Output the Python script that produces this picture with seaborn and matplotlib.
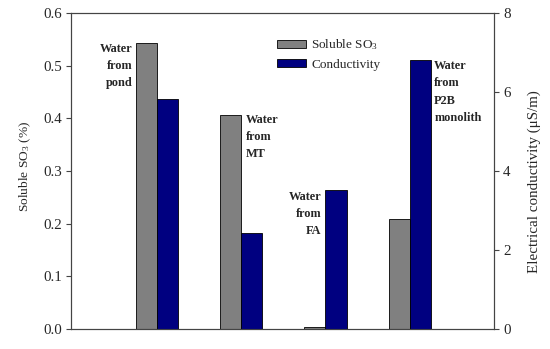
import matplotlib
matplotlib.use("Agg")
import matplotlib.pyplot as plt
import matplotlib.patches as mpatches
import seaborn as sns
import pandas as pd

samples = ["Water from pond", "Water from MT", "Water from FA", "Water from P2B monolith"]
so3 = [0.543, 0.406, 0.003, 0.209]
cond = [5.82, 2.44, 3.52, 6.81]
series = ["Soluble SO$_3$", "Conductivity"]
left_ticks = [0.0, 0.1, 0.2, 0.3, 0.4, 0.5, 0.6]
right_ticks = [0, 2, 4, 6, 8]
labels = ["Water\nfrom\npond", "Water\nfrom\nMT", "Water\nfrom\nFA", "Water\nfrom\nP2B\nmonolith"]

sns.set_theme(style="white")
plt.rcParams["font.family"] = ["Liberation Serif", "DejaVu Serif"]
plt.rcParams["mathtext.fontset"] = "custom"
plt.rcParams["mathtext.rm"] = "Liberation Serif"
plt.rcParams["mathtext.it"] = "Liberation Serif:italic"

gray = "#808080"
navy = "#000080"

df1 = pd.DataFrame({"sample": samples, "series": series[0], "value": so3})
df2 = pd.DataFrame({"sample": samples, "series": series[1], "value": cond})

fig = plt.figure(figsize=(5.5, 3.49), dpi=100)
ax1 = fig.add_axes([71/550, 1-329/349, 423/550, 316/349])
ax2 = ax1.twinx()

for d, ax in ((df1, ax1), (df2, ax2)):
    sns.barplot(data=d, x="sample", y="value", hue="series", hue_order=series, order=samples,
                palette=[gray, navy], width=0.5, dodge=True, saturation=1,
                edgecolor="black", linewidth=0.6, legend=False, ax=ax, errorbar=None)

for ax in (ax1, ax2):
    ax.set_xlim(-1.02, 4.0)
    ax.set_xlabel("")
    ax.set_xticks([])
    for s in ax.spines.values():
        s.set_linewidth(0.8)
        s.set_color("#444444")

ax1.set_ylim(0, 0.6)
ax1.set_yticks(left_ticks)
ax1.set_yticklabels([f"{t:.1f}" for t in left_ticks])
ax1.set_ylabel("Soluble SO$_3$ (%)", fontsize=9.6)
ax1.yaxis.set_label_coords(-0.09, 0.516)
ax2.set_ylim(0, 8)
ax2.set_yticks(right_ticks)
ax2.set_yticklabels([str(t) for t in right_ticks])
ax2.set_ylabel("Electrical conductivity (\u03bcS/m)", fontsize=10.8)
ax2.yaxis.set_label_coords(1.08, 0.465)

ax1.tick_params(axis="y", which="both", left=True, direction="out", length=3.5, width=0.8,
                pad=3, labelsize=10.8, color="#444444")
ax2.tick_params(axis="y", which="both", right=True, direction="out", length=3.5, width=0.8,
                pad=3, labelsize=10.8, color="#444444")

# annotations (x in category positions, y in left-axis units)
pos = [(0 - 0.29, 0.499, "right"), (1 + 0.05, 0.3645, "left"),
       (2 - 0.05, 0.218, "right"), (3 + 0.29, 0.45, "left")]
for (x, y, ha), lab in zip(pos, labels):
    ax2.text(x, y / 0.6 * 8, lab, ha=ha, va="center", fontsize=8.8, fontweight="bold",
             linespacing=1.58, multialignment=ha, zorder=5)

handles = [mpatches.Patch(facecolor=gray, edgecolor="black", linewidth=0.6, label=series[0]),
           mpatches.Patch(facecolor=navy, edgecolor="black", linewidth=0.6, label=series[1])]
ax2.legend(handles=handles, loc="upper left", bbox_to_anchor=(0.487, 0.922), frameon=False,
           borderpad=0, borderaxespad=0, fontsize=9.5, handlelength=2.2, handleheight=0.55,
           handletextpad=0.4, labelspacing=0.48)

fig.savefig("out.png", dpi=100)
